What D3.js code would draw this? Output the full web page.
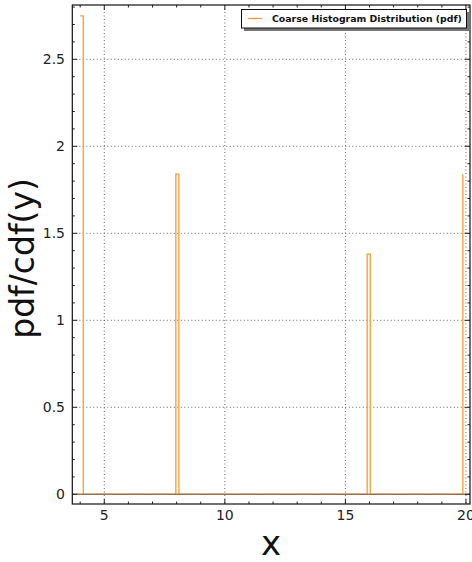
<!DOCTYPE html>
<html><head><meta charset="utf-8">
<script src="https://cdn.jsdelivr.net/npm/d3@7"></script>
<style>body{margin:0;background:#fff}svg{display:block}text{font-family:"DejaVu Sans",sans-serif}</style>
</head><body><svg id="c" width="472" height="562"></svg>
<script>
const binLeft = [4.0, 4.128, 7.968, 8.096, 15.904, 16.032, 19.872];
const density = [2.75, 0, 1.84, 0, 1.38, 0, 1.84];
const xTicks = [5, 10, 15, 20];
const yTicks = [0, 0.5, 1, 1.5, 2, 2.5];
const xMinor = [4, 6, 7, 8, 9, 11, 12, 13, 14, 16, 17, 18, 19];
const yMinor = [0.1,0.2,0.3,0.4,0.6,0.7,0.8,0.9,1.1,1.2,1.3,1.4,1.6,1.7,1.8,1.9,2.1,2.2,2.3,2.4,2.6,2.7,2.8];
const seriesName = "Coarse Histogram Distribution (pdf)";

const L = 72.3, R = 470, T = 5, B = 504;
const x = d3.scaleLinear().domain([3.673, 20.168]).range([L, R]);
const y = d3.scaleLinear().domain([-0.0557, 2.812]).range([B, T]);
const svg = d3.select("#c");
const orange = "#ff9a2e";

// grid
const g = svg.append("g");
g.selectAll(".gx").data(xTicks).join("line")
  .attr("x1", d => x(d)).attr("x2", d => x(d)).attr("y1", T).attr("y2", B)
  .attr("stroke", "#555").attr("stroke-width", 0.9).attr("stroke-dasharray", "1,2.5");
g.selectAll(".gy").data(yTicks).join("line")
  .attr("y1", d => y(d)).attr("y2", d => y(d)).attr("x1", L).attr("x2", R)
  .attr("stroke", "#555").attr("stroke-width", 0.9).attr("stroke-dasharray", "1,2.5");

// series
const pts = binLeft.map((v, i) => [v, density[i]]);
svg.append("path").datum(pts)
  .attr("d", d3.line().x(d => x(d[0])).y(d => y(d[1])).curve(d3.curveStepAfter))
  .attr("fill", "none").attr("stroke", orange).attr("stroke-width", 1.3);

// baseline
svg.append("line").attr("x1", L).attr("x2", R).attr("y1", y(0)).attr("y2", y(0))
  .attr("stroke", "#8a6d4d").attr("stroke-width", 1.6).attr("opacity", 0.85);

// ticks (inward, all four sides)
const tk = svg.append("g").attr("stroke", "#222").attr("stroke-width", 1);
xTicks.forEach(v => {
  tk.append("line").attr("x1", x(v)).attr("x2", x(v)).attr("y1", B).attr("y2", B - 5);
  tk.append("line").attr("x1", x(v)).attr("x2", x(v)).attr("y1", T).attr("y2", T + 5);
});
xMinor.forEach(v => {
  tk.append("line").attr("x1", x(v)).attr("x2", x(v)).attr("y1", B).attr("y2", B - 2.5);
  tk.append("line").attr("x1", x(v)).attr("x2", x(v)).attr("y1", T).attr("y2", T + 2.5);
});
yTicks.forEach(v => {
  tk.append("line").attr("y1", y(v)).attr("y2", y(v)).attr("x1", L).attr("x2", L + 5);
  tk.append("line").attr("y1", y(v)).attr("y2", y(v)).attr("x1", R).attr("x2", R - 5);
});
yMinor.forEach(v => {
  tk.append("line").attr("y1", y(v)).attr("y2", y(v)).attr("x1", L).attr("x2", L + 2.5);
  tk.append("line").attr("y1", y(v)).attr("y2", y(v)).attr("x1", R).attr("x2", R - 2.5);
});

// frame
svg.append("rect").attr("x", L).attr("y", T).attr("width", R - L).attr("height", B - T)
  .attr("fill", "none").attr("stroke", "#111").attr("stroke-width", 1.2);

// tick labels
svg.selectAll(".xl").data(xTicks).join("text")
  .attr("x", d => x(d)).attr("y", 520).attr("text-anchor", "middle")
  .attr("font-size", 14).attr("fill", "#222").text(d => d);
svg.selectAll(".yl").data(yTicks).join("text")
  .attr("x", 65).attr("y", d => y(d) + 5).attr("text-anchor", "end")
  .attr("font-size", 14).attr("fill", "#222").text(d => d);

// axis labels
svg.append("text").attr("x", (L + R) / 2).attr("y", 555).attr("text-anchor", "middle")
  .attr("font-size", 34).attr("fill", "#111").text("x");
svg.append("text").attr("transform", `translate(34,${(T + B) / 2 + 4}) rotate(-90)`)
  .attr("text-anchor", "middle").attr("font-size", 33).attr("fill", "#111").text("pdf/cdf(y)");

// legend
const lg = svg.append("g");
lg.append("rect").attr("x", 244).attr("y", 12).attr("width", 226).attr("height", 19).attr("fill", "#777");
lg.append("rect").attr("x", 241.5).attr("y", 9.5).attr("width", 225).attr("height", 18.5)
  .attr("fill", "#fff").attr("stroke", "#111").attr("stroke-width", 1);
lg.append("line").attr("x1", 248).attr("x2", 262).attr("y1", 18.5).attr("y2", 18.5)
  .attr("stroke", orange).attr("stroke-width", 1.3);
const lt = lg.append("text").attr("x", 272).attr("y", 22).attr("font-size", 9).attr("font-weight", "bold")
  .attr("fill", "#111").text(seriesName);
const w = lt.node().getComputedTextLength();
if (w > 0) lt.attr("font-size", 9 * 190 / w);
</script></body></html>
